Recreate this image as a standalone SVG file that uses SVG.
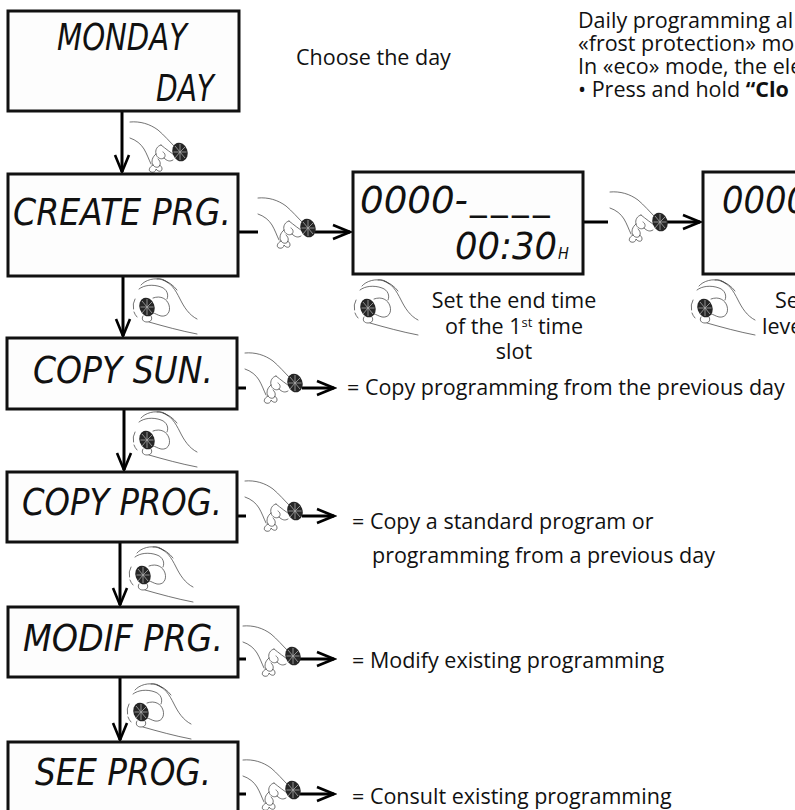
<svg xmlns="http://www.w3.org/2000/svg" xmlns:xlink="http://www.w3.org/1999/xlink" width="795" height="810" viewBox="0 0 795 810">
<style>
.box{fill:#fdfdfd;stroke:#111;stroke-width:3}
.lcd{font-family:"DejaVu Sans Condensed","DejaVu Sans",sans-serif;font-style:italic;font-size:37px;fill:#111}
.txt{font-family:"Open Sans","Noto Sans",sans-serif;font-size:21.5px;fill:#111}
.conn{stroke:#000;stroke-width:3;fill:none}
.hand{fill:none;stroke:#444;stroke-width:0.75;stroke-linecap:round}
.knobline{stroke:#aaa;stroke-width:0.8}
</style>
<defs>
<marker id="ah" markerUnits="userSpaceOnUse" markerWidth="22" markerHeight="18" viewBox="0 0 22 18" refX="19" refY="9" orient="auto">
<path d="M2,2 L19,9 L2,16" fill="none" stroke="#000" stroke-width="2.6"/>
</marker>
<g id="knob">
<ellipse cx="0" cy="0" rx="7.5" ry="9.5" fill="#262626" transform="rotate(-20)"/>
<g class="knobline">
<line x1="0" y1="0" x2="0" y2="-8"/><line x1="0" y1="0" x2="5.5" y2="-5.5"/>
<line x1="0" y1="0" x2="6.5" y2="0"/><line x1="0" y1="0" x2="5" y2="6"/>
<line x1="0" y1="0" x2="0" y2="8"/><line x1="0" y1="0" x2="-5" y2="6"/>
<line x1="0" y1="0" x2="-6.5" y2="0"/><line x1="0" y1="0" x2="-5" y2="-6"/>
</g>
</g>
<g id="press">
<path class="hand" d="M-50,-30 C-40,-31 -30,-28 -22,-22 C-16,-17 -10,-10 -5,-5"/>
<path class="hand" d="M-4,4 C-9,1 -14,-3 -19,-7"/>
<path class="hand" d="M-19,-7 C-23,-6 -25,-2 -24,2 C-23,6 -19,8 -16,6 C-14,4 -15,1 -17,0"/>
<path class="hand" d="M-24,2 C-28,5 -29,10 -27,13 C-25,16 -21,16 -20,13 C-19,10 -21,8 -22,7"/>
<path class="hand" d="M-27,13 C-31,15 -32,19 -29,20 C-26,21 -24,19 -24,17 C-22,20 -18,20 -18,17 C-18,14 -20,13 -21,14"/>
<path class="hand" d="M-50,-14 C-44,-12 -39,-8 -36,-3 C-33,2 -31,8 -29,12"/>
<path class="hand" d="M-16,6 C-13,9 -10,10 -7,8"/>
<use xlink:href="#knob"/>
</g>
<g id="turn">
<path class="hand" d="M-12,-8 A14,14 0 0 0 -13.5,2"/>
<path class="hand" d="M-13,5 A14,14 0 0 0 -10,10"/>
<path class="hand" d="M-6,-22 C-2,-27 8,-30 16,-27 C22,-25 26,-22 30,-17"/>
<path class="hand" d="M16,-27 C24,-24 28,-18 33,-8 C37,0 42,8 50,12"/>
<path class="hand" d="M-8,-18 C-3,-22 6,-23 14,-20 C20,-18 22,-12 20,-8"/>
<path class="hand" d="M10,-28 C14,-29 18,-27 21,-24"/>
<path class="hand" d="M6,-9 C14,-12 20,-8 22,-2 C24,5 20,10 14,9 C10,8 8,6 6,6"/>
<path class="hand" d="M-4,9 C-6,12 -4,15 0,15 C4,15 6,12 4,9"/>
<path class="hand" d="M2,15 C16,19 34,24 50,27"/>
<use xlink:href="#knob"/>
</g>
</defs>

<g id="connectors">
<line class="conn" x1="122" y1="111" x2="122" y2="172" marker-end="url(#ah)"/>
<line class="conn" x1="123" y1="276" x2="123" y2="336" marker-end="url(#ah)"/>
<line class="conn" x1="124" y1="409" x2="124" y2="470" marker-end="url(#ah)"/>
<line class="conn" x1="120" y1="542" x2="120" y2="605" marker-end="url(#ah)"/>
<line class="conn" x1="120" y1="677" x2="120" y2="740" marker-end="url(#ah)"/>
<line class="conn" x1="238" y1="232" x2="258" y2="232"/>
<line class="conn" x1="315" y1="232" x2="350" y2="232" marker-end="url(#ah)"/>
<line class="conn" x1="583" y1="222" x2="608" y2="222"/>
<line class="conn" x1="667" y1="222" x2="700" y2="222" marker-end="url(#ah)"/>
<line class="conn" x1="237" y1="388" x2="246" y2="388"/>
<line class="conn" x1="302" y1="388" x2="334" y2="388" marker-end="url(#ah)"/>
<line class="conn" x1="237" y1="516" x2="246" y2="516"/>
<line class="conn" x1="302" y1="516" x2="334" y2="516" marker-end="url(#ah)"/>
<line class="conn" x1="238" y1="659" x2="246" y2="659"/>
<line class="conn" x1="300" y1="659" x2="334" y2="659" marker-end="url(#ah)"/>
<line class="conn" x1="238" y1="794" x2="246" y2="794"/>
<line class="conn" x1="300" y1="794" x2="334" y2="794" marker-end="url(#ah)"/>
</g>

<g id="hands">
<use xlink:href="#press" x="180" y="152"/>
<use xlink:href="#press" x="308" y="228"/>
<use xlink:href="#press" x="660" y="222"/>
<use xlink:href="#press" x="295" y="383"/>
<use xlink:href="#press" x="295" y="511"/>
<use xlink:href="#press" x="293" y="656"/>
<use xlink:href="#press" x="293" y="790"/>
<use xlink:href="#turn" x="147" y="307"/>
<use xlink:href="#turn" x="147" y="440"/>
<use xlink:href="#turn" x="143" y="575"/>
<use xlink:href="#turn" x="141" y="712"/>
<use xlink:href="#turn" x="368" y="308"/>
<use xlink:href="#turn" x="705" y="308"/>
</g>

<g id="node-monday">
<rect class="box" x="8" y="11" width="231" height="100"/>
<text class="lcd" x="57" y="50" textLength="130" lengthAdjust="spacingAndGlyphs">MONDAY</text>
<text class="lcd" x="156" y="101" textLength="58" lengthAdjust="spacingAndGlyphs">DAY</text>
</g>
<g id="node-create">
<rect class="box" x="8" y="174" width="230" height="102"/>
<text class="lcd" x="13" y="225" textLength="218" lengthAdjust="spacingAndGlyphs">CREATE PRG.</text>
</g>
<g id="node-slot">
<rect class="box" x="353" y="172" width="230" height="102"/>
<text class="lcd" x="360" y="213"><tspan textLength="108" lengthAdjust="spacingAndGlyphs">0000-</tspan><tspan x="470 491 512 533" dy="-4">____</tspan></text>
<text class="lcd" x="455" y="259" textLength="102" lengthAdjust="spacingAndGlyphs">00:30</text>
<text class="lcd" x="558" y="259" style="font-size:16px">H</text>
</g>
<g id="node-level">
<rect class="box" x="703" y="172" width="110" height="102"/>
<text class="lcd" x="722" y="213" textLength="86" lengthAdjust="spacingAndGlyphs">0000</text>
</g>
<g id="node-copysun">
<rect class="box" x="7" y="338" width="230" height="71"/>
<text class="lcd" x="33" y="383" textLength="180" lengthAdjust="spacingAndGlyphs">COPY SUN.</text>
</g>
<g id="node-copyprog">
<rect class="box" x="7" y="472" width="230" height="70"/>
<text class="lcd" x="22" y="515" textLength="200" lengthAdjust="spacingAndGlyphs">COPY PROG.</text>
</g>
<g id="node-modif">
<rect class="box" x="8" y="607" width="230" height="70"/>
<text class="lcd" x="23" y="651" textLength="200" lengthAdjust="spacingAndGlyphs">MODIF PRG.</text>
</g>
<g id="node-see">
<rect class="box" x="8" y="742" width="230" height="70"/>
<text class="lcd" x="35" y="785" textLength="176" lengthAdjust="spacingAndGlyphs">SEE PROG.</text>
</g>

<g id="labels">
<text class="txt" x="296" y="65">Choose the day</text>
<text class="txt" x="578" y="28">Daily programming al</text>
<text class="txt" x="578" y="51">«frost protection» mo</text>
<text class="txt" x="578" y="74">In «eco» mode, the ele</text>
<text class="txt" x="578" y="97">• Press and hold <tspan font-weight="bold">“Clo</tspan></text>
<text class="txt" x="514" y="308" text-anchor="middle">Set the end time</text>
<text class="txt" x="514" y="334" text-anchor="middle">of the 1<tspan font-size="13" dy="-7">st</tspan><tspan dy="7"> time</tspan></text>
<text class="txt" x="514" y="359" text-anchor="middle">slot</text>
<text class="txt" x="775" y="308">Se</text>
<text class="txt" x="762" y="334">leve</text>
<text class="txt" x="347" y="395">= Copy programming from the previous day</text>
<text class="txt" x="352" y="529">= Copy a standard program or</text>
<text class="txt" x="372" y="563">programming from a previous day</text>
<text class="txt" x="352" y="668">= Modify existing programming</text>
<text class="txt" x="352" y="804">= Consult existing programming</text>
</g>
</svg>
